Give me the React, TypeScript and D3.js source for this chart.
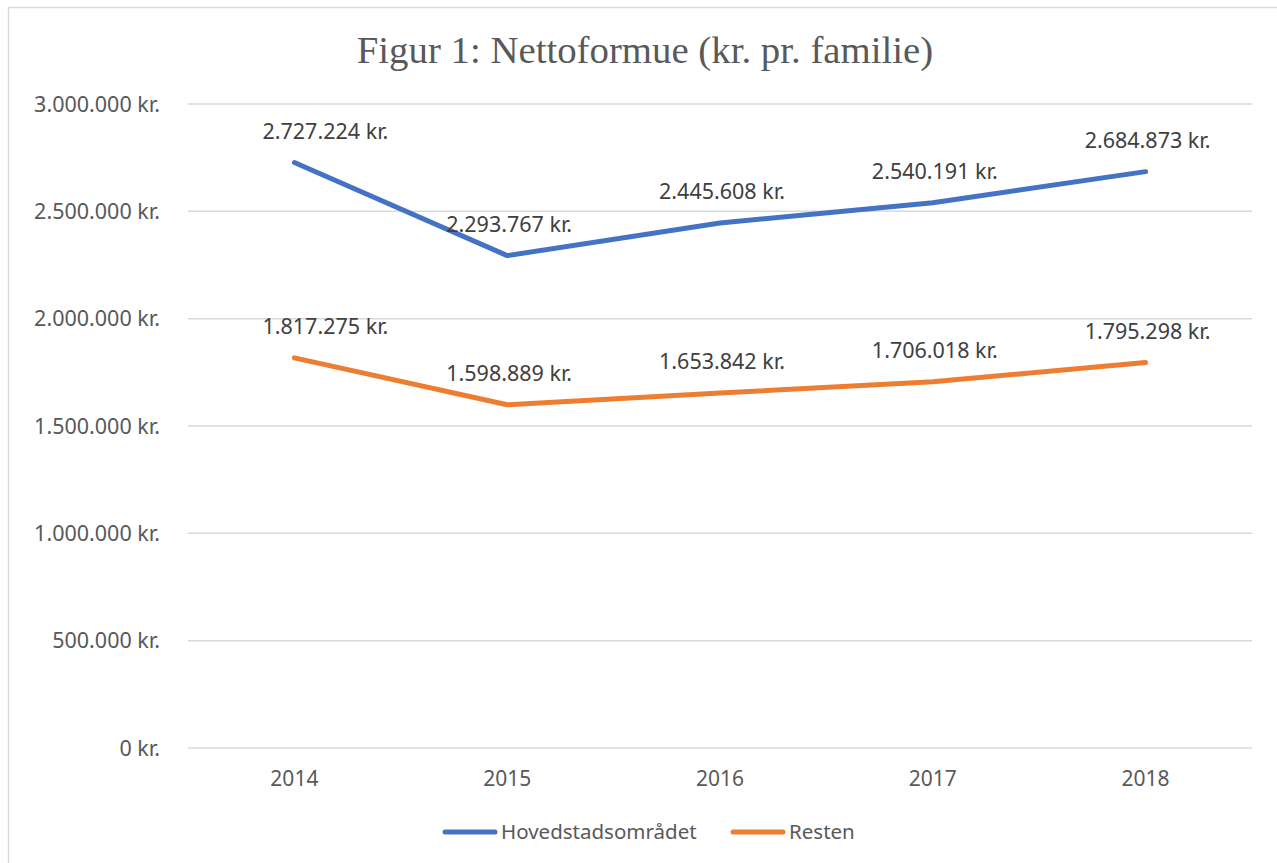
import * as d3 from "d3";
import { useEffect, useRef } from "react";

const years = ["2014", "2015", "2016", "2017", "2018"];
const hovedstad = [2727224, 2293767, 2445608, 2540191, 2684873];
const resten = [1817275, 1598889, 1653842, 1706018, 1795298];
const yTicks = [0, 500000, 1000000, 1500000, 2000000, 2500000, 3000000];

const series = [
  { name: "Hovedstadsområdet", values: hovedstad, color: "#4472C4" },
  { name: "Resten", values: resten, color: "#ED7D31" },
];

const W = 1277;
const H = 863;
const sansFont = "'Noto Sans', 'Open Sans', sans-serif";

const fmt = (v: number) =>
  v === 0 ? "0 kr." : d3.format(",")(v).replace(/,/g, ".") + " kr.";

export default function App() {
  const svgRef = useRef<SVGSVGElement>(null);

  useEffect(() => {
    const svg = d3.select(svgRef.current);
    svg.selectAll("*").remove();

    // chart frame (only the top and left edges fall inside the window)
    svg
      .append("rect")
      .attr("x", 8.5)
      .attr("y", 7.5)
      .attr("width", 1290)
      .attr("height", 900)
      .attr("fill", "#fff")
      .attr("stroke", "#d9d9d9")
      .attr("stroke-width", 1.5);

    svg
      .append("text")
      .attr("x", 645)
      .attr("y", 63)
      .attr("text-anchor", "middle")
      .attr("font-family", "'Liberation Serif', 'Times New Roman', serif")
      .attr("font-size", 38.8)
      .attr("fill", "#595959")
      .text("Figur 1: Nettoformue (kr. pr. familie)");

    const x = d3.scaleBand().domain(years).range([188, 1252]);
    const y = d3.scaleLinear().domain([0, 3000000]).range([748, 104]);
    const cx = (d: string) => (x(d) ?? 0) + x.bandwidth() / 2;

    // gridlines
    svg
      .append("g")
      .selectAll("line")
      .data(yTicks)
      .join("line")
      .attr("x1", 188)
      .attr("x2", 1252)
      .attr("y1", (d) => y(d))
      .attr("y2", (d) => y(d))
      .attr("stroke", "#d9d9d9")
      .attr("stroke-width", 1.5);

    // y labels
    svg
      .append("g")
      .selectAll("text")
      .data(yTicks)
      .join("text")
      .attr("x", 160)
      .attr("y", (d) => y(d))
      .attr("dy", "0.35em")
      .attr("text-anchor", "end")
      .attr("font-family", sansFont)
      .attr("font-size", 21.5)
      .attr("fill", "#595959")
      .text((d) => fmt(d));

    // x labels
    svg
      .append("g")
      .selectAll("text")
      .data(years)
      .join("text")
      .attr("x", (d) => cx(d))
      .attr("y", 786)
      .attr("text-anchor", "middle")
      .attr("font-family", sansFont)
      .attr("font-size", 21)
      .attr("fill", "#595959")
      .text((d) => d);

    const line = d3
      .line<number>()
      .x((_, i) => cx(years[i]))
      .y((d) => y(d));

    series.forEach((s) => {
      svg
        .append("path")
        .datum(s.values)
        .attr("d", line)
        .attr("fill", "none")
        .attr("stroke", s.color)
        .attr("stroke-width", 5)
        .attr("stroke-linecap", "round")
        .attr("stroke-linejoin", "round");

      svg
        .append("g")
        .selectAll("text")
        .data(s.values)
        .join("text")
        .attr("x", (_, i) => cx(years[i]) + (i === 0 ? 31 : 2))
        .attr("y", (d) => y(d) - 24)
        .attr("text-anchor", "middle")
        .attr("font-family", sansFont)
        .attr("font-size", 21.5)
        .attr("fill", "#404040")
        .text((d) => fmt(d));
    });

    // legend
    const legendX = [443, 731];
    series.forEach((s, i) => {
      const g = svg.append("g").attr("transform", `translate(${legendX[i]},832)`);
      g.append("line")
        .attr("x1", 2)
        .attr("x2", 52)
        .attr("stroke", s.color)
        .attr("stroke-width", 5)
        .attr("stroke-linecap", "round");
      g.append("text")
        .attr("x", 58)
        .attr("dy", "0.35em")
        .attr("font-family", sansFont)
        .attr("font-size", 20.5)
        .attr("fill", "#595959")
        .text(s.name);
    });
  }, []);

  return (
    <svg
      ref={svgRef}
      width={W}
      height={H}
      style={{ position: "absolute", left: 0, top: 0, display: "block" }}
    />
  );
}
